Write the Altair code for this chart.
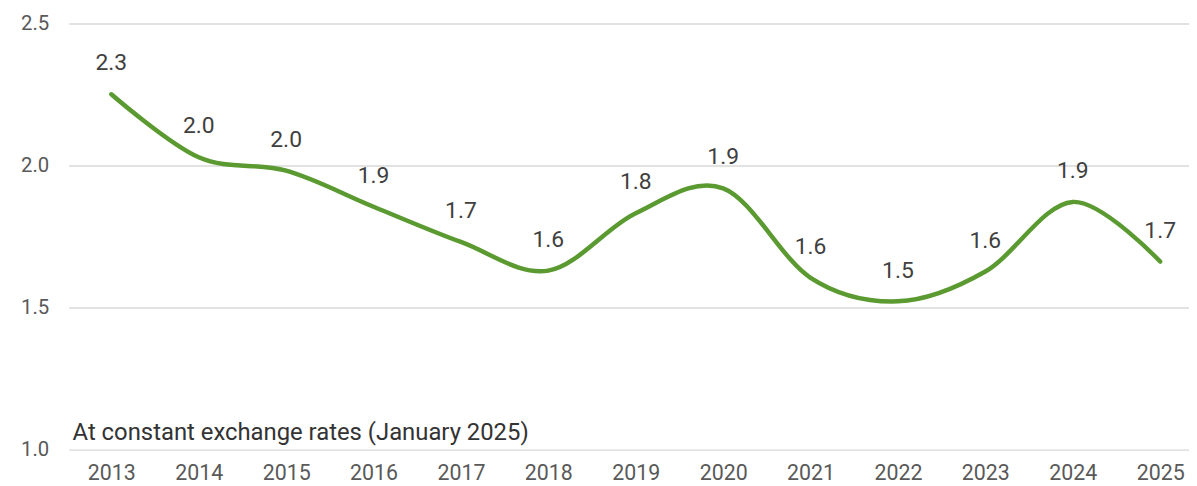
import altair as alt
import pandas as pd

years = [2013, 2014, 2015, 2016, 2017, 2018, 2019, 2020, 2021, 2022, 2023, 2024, 2025]
values = [2.251, 2.029, 1.982, 1.855, 1.731, 1.630, 1.832, 1.920, 1.605, 1.522, 1.627, 1.872, 1.662]
labels = ["2.3", "2.0", "2.0", "1.9", "1.7", "1.6", "1.8", "1.9", "1.6", "1.5", "1.6", "1.9", "1.7"]
y_ticks = [1.0, 1.5, 2.0, 2.5]
caption = ["At constant exchange rates (January 2025)"]

df = pd.DataFrame({"year": years, "value": values, "label": labels})
cap_df = pd.DataFrame({"text": caption})

FONT = "Roboto"

x = alt.X(
    "year:Q",
    scale=alt.Scale(domain=[2012.511, 2025.33], nice=False, zero=False),
    axis=alt.Axis(values=years, format="d", title=None, grid=False, domain=False,
                  ticks=False, labelFontSize=21.5, labelColor="#595959", labelPadding=30,
                  labelBaseline="alphabetic", labelFont=FONT, labelFlush=False),
)
y = alt.Y(
    "value:Q",
    scale=alt.Scale(domain=[1.0, 2.5], nice=False, zero=False),
    axis=alt.Axis(values=y_ticks, format=".1f", title=None, domain=False, ticks=False,
                  grid=True, gridColor="#d9d9d9", gridWidth=1.5, labelFontSize=20.5,
                  labelColor="#595959", labelPadding=20, labelFont=FONT),
)

base = alt.Chart(df)
line = base.mark_line(interpolate="cardinal", color="#5a9a31", strokeWidth=4.5,
                      strokeCap="round", strokeJoin="round").encode(x=x, y=y)
text = base.mark_text(dy=-24, baseline="alphabetic", align="center", fontSize=23,
                      color="#404040", font=FONT).encode(x=x, y=y, text="label:N")
cap = alt.Chart(cap_df).mark_text(align="left", baseline="alphabetic", fontSize=24,
                                  color="#333333", font=FONT).encode(
    x=alt.value(4), y=alt.value(419), text="text:N")

chart = alt.layer(line, text, cap).properties(
    width=1128, height=429,
    autosize=alt.AutoSizeParams(type="none"),
    padding={"left": 61, "top": 14, "right": 0, "bottom": 36},
    background="white",
).configure_view(stroke=None)

chart.save("out.html", embed_options={"renderer": "svg", "actions": False})
